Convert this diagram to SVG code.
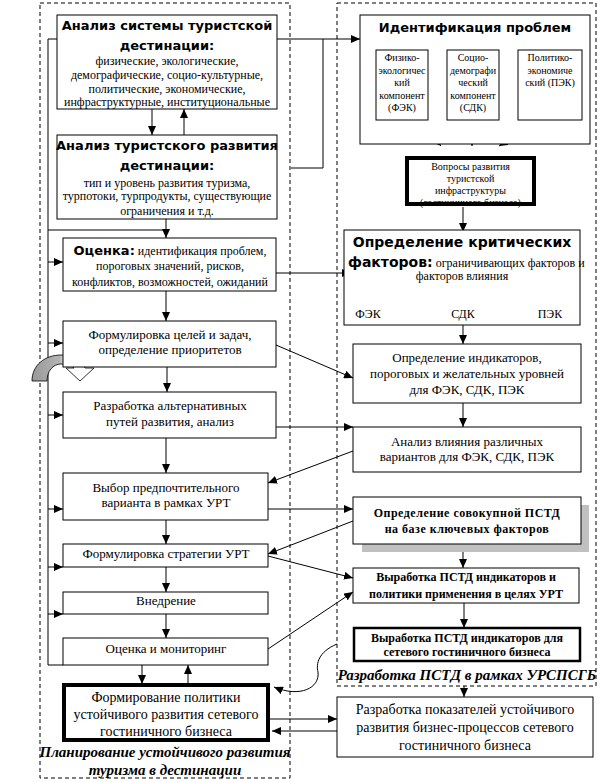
<svg xmlns="http://www.w3.org/2000/svg" width="600" height="782" viewBox="0 0 600 782">
<defs>
<style>
.box{fill:#fff;stroke:#000;stroke-width:1}
.thick{fill:#fff;stroke:#000;stroke-width:4}
.frame{fill:none;stroke:#000;stroke-width:1;stroke-dasharray:4,3}
.ln{fill:none;stroke:#000;stroke-width:1}
.a{fill:none;stroke:#000;stroke-width:1;marker-end:url(#ah)}
.t{font-family:"Liberation Serif","Times New Roman",serif;font-size:12px;text-anchor:middle;fill:#000}
.t13{font-family:"Liberation Serif","Times New Roman",serif;font-size:13px;text-anchor:middle;fill:#000}
.t14{font-family:"Liberation Serif","Times New Roman",serif;font-size:14px;text-anchor:middle;fill:#000}
.s{font-family:"Liberation Serif","Times New Roman",serif;font-size:10px;text-anchor:middle;fill:#000}
.b{font-family:"Liberation Serif","Times New Roman",serif;font-size:12px;font-weight:bold;text-anchor:middle;fill:#000}
.h{font-family:"DejaVu Sans",sans-serif;font-weight:bold;font-size:13px;text-anchor:middle;fill:#000}
.hs{font-family:"DejaVu Sans",sans-serif;font-weight:bold;font-size:13px}
.cap{font-family:"Liberation Serif","Times New Roman",serif;font-size:15px;font-weight:bold;font-style:italic;text-anchor:middle;fill:#000}
</style>
<marker id="ah" markerWidth="9" markerHeight="8" refX="9" refY="4" orient="auto" markerUnits="userSpaceOnUse">
<path d="M0,0 L9,4 L0,8 z" fill="#000"/>
</marker>
<linearGradient id="gr" x1="0" y1="0" x2="1" y2="0">
<stop offset="0" stop-color="#999"/>
<stop offset="0.45" stop-color="#b4b4b4"/>
<stop offset="0.56" stop-color="#fff"/>
<stop offset="1" stop-color="#fff"/>
</linearGradient>
</defs>

<rect class="frame" x="40" y="3" width="250" height="775"/>
<rect class="frame" x="337" y="3" width="259" height="683"/>

<g id="connectors">
<line class="a" x1="277" y1="39" x2="360" y2="39"/>
<polyline class="ln" points="323,39 323,168 291,168"/>
<line class="a" x1="152" y1="109" x2="152" y2="135"/>
<line class="a" x1="184" y1="135" x2="184" y2="109"/>
<line class="a" x1="166" y1="219" x2="166" y2="238"/>
<polyline class="ln" points="57,39 48,39 48,665 63,665"/>
<line class="ln" x1="48" y1="230" x2="166" y2="230"/>
<line class="a" x1="48" y1="262" x2="63" y2="262"/>
<line class="a" x1="48" y1="343" x2="63" y2="343"/>
<line class="a" x1="48" y1="415" x2="63" y2="415"/>
<line class="a" x1="48" y1="509" x2="63" y2="509"/>
<line class="a" x1="48" y1="567" x2="63" y2="567"/>
<line class="a" x1="48" y1="614" x2="63" y2="614"/>
<line class="a" x1="276" y1="273" x2="351" y2="273"/>
<line class="a" x1="166" y1="291" x2="166" y2="321"/>
<line class="a" x1="276" y1="345" x2="353" y2="378"/>
<line class="a" x1="167" y1="367" x2="167" y2="392"/>
<line class="a" x1="276" y1="427" x2="353" y2="427"/>
<line class="a" x1="166" y1="438" x2="166" y2="473"/>
<line class="a" x1="353" y1="451" x2="268" y2="483"/>
<line class="a" x1="268" y1="509" x2="353" y2="509"/>
<line class="a" x1="166" y1="520" x2="166" y2="544"/>
<line class="a" x1="353" y1="521" x2="268" y2="554"/>
<line class="a" x1="268" y1="556" x2="353" y2="578"/>
<line class="a" x1="166" y1="567" x2="166" y2="592"/>
<line class="a" x1="166" y1="614" x2="166" y2="638"/>
<line class="a" x1="268" y1="649" x2="353" y2="592"/>
<line class="a" x1="142" y1="665" x2="142" y2="684"/>
<line class="a" x1="188" y1="684" x2="188" y2="665"/>
<line class="a" x1="270" y1="719" x2="337" y2="719"/>
<line class="a" x1="337" y1="731" x2="272" y2="731"/>
<path class="a" d="M337,644 C318,652 316,664 318,672 C320,688 300,698 274,687"/>
<line class="a" x1="418" y1="121" x2="441" y2="146"/>
<line class="a" x1="472" y1="120" x2="472" y2="146"/>
<line class="a" x1="543" y1="121" x2="499" y2="146"/>
<line class="a" x1="463" y1="207" x2="463" y2="232"/>
<line class="ln" x1="368" y1="292" x2="552" y2="292"/>
<line class="a" x1="368" y1="292" x2="368" y2="303"/>
<line class="a" x1="463" y1="292" x2="463" y2="303"/>
<line class="a" x1="552" y1="292" x2="552" y2="303"/>
<line class="a" x1="463" y1="325" x2="463" y2="344"/>
<line class="a" x1="463" y1="403" x2="463" y2="427"/>
<line class="a" x1="463" y1="544" x2="463" y2="568"/>
<line class="a" x1="464" y1="603" x2="464" y2="628"/>
<line class="a" x1="464" y1="686" x2="464" y2="697"/>
</g>

<g id="curved-arrow">
<path d="M32,381 C32,365 45,355 61,355 C73,355 81,361 85,368 L94,368 L80,381 L66,368 L74,368 C71,365 67,364 61,364 C53,364 47,371 47,381 Z" fill="url(#gr)" stroke="#000" stroke-width="0.8"/>
</g>

<g id="n1">
<rect class="box" x="57" y="15" width="220" height="94"/>
<text class="h" x="167" y="30">Анализ системы туристской</text>
<text class="h" x="167" y="50">дестинации:</text>
<text class="t" x="167" y="65">физические, экологические,</text>
<text class="t" x="167" y="79">демографические, социо-культурные,</text>
<text class="t" x="167" y="93">политические, экономические,</text>
<text class="t" x="167" y="106">инфраструктурные, институциональные</text>
</g>

<g id="n2">
<rect class="box" x="57" y="135" width="220" height="84"/>
<text class="h" x="167" y="150">Анализ туристского развития</text>
<text class="h" x="167" y="170">дестинации:</text>
<text class="t" x="167" y="187">тип и уровень развития туризма,</text>
<text class="t" x="167" y="200">турпотоки, турпродукты, существующие</text>
<text class="t" x="167" y="215">ограничения и т.д.</text>
</g>

<g id="n3">
<rect class="box" x="63" y="238" width="213" height="53"/>
<text class="t" x="170" y="255"><tspan class="hs">Оценка:</tspan> идентификация проблем,</text>
<text class="t" x="170" y="270">пороговых значений, рисков,</text>
<text class="t" x="170" y="286">конфликтов, возможностей, ожиданий</text>
</g>

<g id="n4">
<rect class="box" x="63" y="321" width="213" height="46"/>
<text class="t13" x="170" y="339">Формулировка целей и задач,</text>
<text class="t13" x="170" y="354">определение приоритетов</text>
</g>

<g id="n5">
<rect class="box" x="63" y="392" width="213" height="46"/>
<text class="t13" x="170" y="410">Разработка альтернативных</text>
<text class="t13" x="170" y="426">путей развития, анализ</text>
</g>

<g id="n6">
<rect class="box" x="63" y="473" width="205" height="47"/>
<text class="t13" x="166" y="492">Выбор предпочтительного</text>
<text class="t13" x="166" y="507">варианта в рамках УРТ</text>
</g>

<g id="n7">
<rect class="box" x="63" y="544" width="205" height="23"/>
<text class="t13" x="166" y="558">Формулировка стратегии УРТ</text>
</g>

<g id="n8">
<rect class="box" x="63" y="592" width="205" height="22"/>
<text class="t13" x="166" y="605">Внедрение</text>
</g>

<g id="n9">
<rect class="box" x="63" y="638" width="205" height="27"/>
<text class="t13" x="166" y="653">Оценка и мониторинг</text>
</g>

<g id="n10">
<rect class="thick" x="64" y="685" width="204" height="55"/>
<text class="t14" x="166" y="702">Формирование политики</text>
<text class="t14" x="166" y="719">устойчивого развития сетевого</text>
<text class="t14" x="166" y="736">гостиничного бизнеса</text>
</g>

<g id="cap-left">
<text class="cap" x="165" y="757">Планирование устойчивого развития</text>
<text class="cap" x="165" y="775">туризма в дестинации</text>
</g>

<g id="r1">
<rect class="box" x="360" y="15" width="230" height="129"/>
<text class="h" x="475" y="32">Идентификация проблем</text>
</g>
<g id="r1a">
<rect class="box" x="376" y="50" width="52" height="70"/>
<text class="s" x="402" y="61">Физико-</text>
<text class="s" x="402" y="73.5">экологичес</text>
<text class="s" x="402" y="86">кий</text>
<text class="s" x="402" y="98.5">компонент</text>
<text class="s" x="402" y="111">(ФЭК)</text>
</g>
<g id="r1b">
<rect class="box" x="447" y="50" width="52" height="70"/>
<text class="s" x="473" y="61">Социо-</text>
<text class="s" x="473" y="73.5">демографи</text>
<text class="s" x="473" y="86">ческий</text>
<text class="s" x="473" y="98.5">компонент</text>
<text class="s" x="473" y="111">(СДК)</text>
</g>
<g id="r1c">
<rect class="box" x="518" y="50" width="64" height="70"/>
<text class="s" x="550" y="61">Политико-</text>
<text class="s" x="550" y="73.5">экономиче</text>
<text class="s" x="550" y="86">ский (ПЭК)</text>
</g>

<g id="r2">
<rect class="thick" x="407" y="158" width="127" height="46"/>
<text class="s" x="470.5" y="170">Вопросы развития</text>
<text class="s" x="470.5" y="182">туристской</text>
<text class="s" x="470.5" y="194">инфраструктуры</text>
<text class="s" x="470.5" y="206">(гостиничного бизнеса)</text>
</g>

<g id="r3">
<rect class="box" x="344" y="230" width="236" height="95"/>
<text class="h" x="462" y="247" style="font-size:14px">Определение критических</text>
<text x="348" y="267" style="font-family:'Liberation Serif',serif;font-size:12px"><tspan class="hs" style="font-size:14px">факторов:</tspan> ограничивающих факторов и</text>
<text class="t" x="462" y="280">факторов влияния</text>
<text class="t" x="368" y="318">ФЭК</text>
<text class="t" x="463" y="318">СДК</text>
<text class="t" x="550" y="318">ПЭК</text>
</g>

<g id="r4">
<rect class="box" x="353" y="344" width="228" height="59"/>
<text class="t13" x="467" y="362">Определение индикаторов,</text>
<text class="t13" x="467" y="378">пороговых и желательных  уровней</text>
<text class="t13" x="467" y="394">для ФЭК, СДК, ПЭК</text>
</g>

<g id="r5">
<rect class="box" x="353" y="427" width="228" height="45"/>
<text class="t13" x="467" y="446">Анализ влияния различных</text>
<text class="t13" x="467" y="461">вариантов для ФЭК, СДК, ПЭК</text>
</g>

<g id="r6">
<rect x="362" y="505" width="227" height="47" fill="#c0c0c0"/>
<rect class="box" x="353" y="497" width="228" height="47"/>
<text class="b" x="467" y="517" style="letter-spacing:0.5px">Определение совокупной ПСТД</text>
<text class="b" x="467" y="533" style="letter-spacing:0.5px">на базе ключевых факторов</text>
</g>

<g id="r7">
<rect class="box" x="353" y="568" width="226" height="35"/>
<text class="b" x="466" y="581">Выработка ПСТД индикаторов и</text>
<text class="b" x="466" y="598">политики применения в целях УРТ</text>
</g>

<g id="r8">
<rect class="box" x="354" y="628" width="226" height="33" style="stroke-width:2.5"/>
<text class="b" x="467" y="642">Выработка ПСТД индикаторов для</text>
<text class="b" x="467" y="656">сетевого гостиничного бизнеса</text>
</g>

<g id="cap-right">
<text class="cap" x="467" y="680">Разработка ПСТД в рамках УРСПСГБ</text>
</g>

<g id="r9">
<rect class="box" x="337" y="697" width="256" height="60"/>
<text class="t14" x="465" y="714">Разработка показателей устойчивого</text>
<text class="t14" x="465" y="732">развития бизнес-процессов сетевого</text>
<text class="t14" x="465" y="750">гостиничного бизнеса</text>
</g>
</svg>
